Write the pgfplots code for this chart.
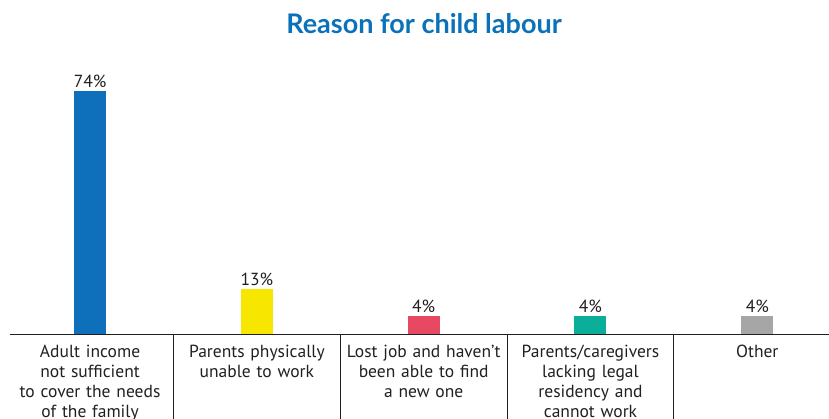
\documentclass[border=0pt]{standalone}
\usepackage{pgfplots}
\pgfplotsset{compat=1.18}
\usepackage{fontspec}
\setmainfont{PT Sans}
\newfontfamily\titlefont{Lato}
\definecolor{ctitle}{HTML}{0B72BA}
\definecolor{cblue}{HTML}{0E6FBA}
\definecolor{cyellow}{HTML}{F7E700}
\definecolor{cred}{HTML}{E84862}
\definecolor{cteal}{HTML}{0BAF99}
\definecolor{cgray}{HTML}{A6A6A6}
\definecolor{ctext}{HTML}{231F20}
\begin{document}
\begin{tikzpicture}
\useasboundingbox (-10pt,-85pt) rectangle (819pt,334pt);
\begin{axis}[
  at={(0pt,0pt)}, anchor=south west,
  scale only axis, width=819pt, height=274pt,
  xmin=-0.48, xmax=4.43, ymin=0, ymax=83.4,
  axis x line=bottom, axis y line=none,
  axis line style={draw=ctext, line width=0.9pt, -},
  xtick={0,1,2,3,4},
  xticklabels={{Adult income\\not sufficient\\to cover the needs\\of the family},
    {Parents physically\\unable to work},
    {Lost job and haven't\\been able to find\\a new one},
    {Parents/caregivers\\lacking legal\\residency and\\cannot work},
    {Other}},
  major tick length=0pt,
  xticklabel style={align=center, text width=165pt, font=\fontsize{17.5}{20}\selectfont, text=ctext, anchor=north, yshift=-8pt},
  ybar, bar width=32pt, bar shift=0pt,
  nodes near coords, point meta=explicit symbolic,
  nodes near coords style={font=\fontsize{17.5}{18}\selectfont, text=ctext},
  clip=false]
\addplot[fill=cblue, draw=none, bar shift=0pt] coordinates {(0,74) [74\%]};
\addplot[fill=cyellow, draw=none, bar shift=0pt] coordinates {(1,13.7) [13\%]};
\addplot[fill=cred, draw=none, bar shift=0pt] coordinates {(2,5.5) [4\%]};
\addplot[fill=cteal, draw=none, bar shift=0pt] coordinates {(3,5.5) [4\%]};
\addplot[fill=cgray, draw=none, bar shift=0pt] coordinates {(4,5.5) [4\%]};
\draw[ctext, line width=0.9pt] (axis cs:0.5,0) -- ++(0pt,-90pt);
\draw[ctext, line width=0.9pt] (axis cs:1.5,0) -- ++(0pt,-90pt);
\draw[ctext, line width=0.9pt] (axis cs:2.5,0) -- ++(0pt,-90pt);
\draw[ctext, line width=0.9pt] (axis cs:3.5,0) -- ++(0pt,-90pt);
\end{axis}
\node[font=\titlefont\bfseries\fontsize{27}{30}\selectfont, text=ctitle, anchor=base] at (414pt,300pt) {Reason for child labour};
\end{tikzpicture}
\end{document}
